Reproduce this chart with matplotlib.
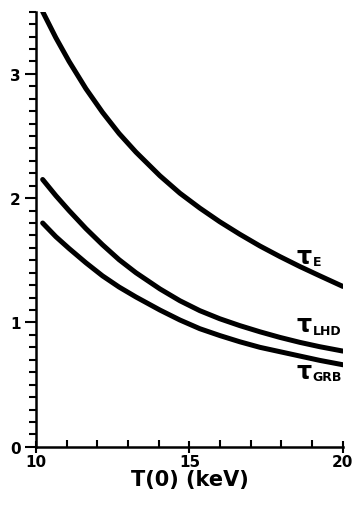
import matplotlib.pyplot as plt
from matplotlib.ticker import MultipleLocator

# values
t_vals = [10.22, 10.65, 11.08, 11.63, 12.17, 12.71, 13.26, 14.04, 14.69, 15.34, 15.99,
          16.64, 17.30, 17.95, 18.60, 19.25, 20.0]
tau_e = [3.50, 3.29, 3.10, 2.88, 2.69, 2.52, 2.37, 2.18, 2.04, 1.92, 1.81,
         1.71, 1.615, 1.53, 1.45, 1.375, 1.29]
tau_lhd = [2.15, 2.02, 1.90, 1.755, 1.625, 1.505, 1.40, 1.27, 1.175, 1.095, 1.03,
           0.975, 0.925, 0.88, 0.84, 0.805, 0.77]
tau_grb = [1.80, 1.69, 1.595, 1.48, 1.375, 1.285, 1.205, 1.10, 1.02, 0.95, 0.895,
           0.845, 0.80, 0.765, 0.73, 0.695, 0.66]

labels = ['E', 'LHD', 'GRB']
label_y = [1.536, 0.984, 0.609]

plt.rcParams['font.family'] = ['DejaVu Sans']
fig = plt.figure(figsize=(3.52, 5.06), dpi=100)
ax = fig.add_axes([0.102, 0.115, 0.872, 0.86])

for y in [tau_e, tau_lhd, tau_grb]:
    ax.plot(t_vals, y, color='black', lw=3.6, solid_capstyle='round', solid_joinstyle='round')

for lab, ly in zip(labels, label_y):
    ax.text(18.5, ly, '\u03c4', fontsize=17, fontweight='bold', va='center', ha='left')
    ax.text(19.02, ly - 0.045, lab, fontsize=9, fontweight='bold', va='center', ha='left')

ax.set_xlim(10, 20)
ax.set_ylim(0, 3.5)
ax.set_xticks([10, 15, 20])
ax.set_yticks([0, 1, 2, 3])
ax.xaxis.set_minor_locator(MultipleLocator(1))
ax.yaxis.set_minor_locator(MultipleLocator(0.1))
ax.tick_params(axis='x', which='major', direction='inout', length=8, width=1.5, labelsize=11, pad=1)
ax.tick_params(axis='x', which='minor', direction='in', length=5, width=1.5)
ax.tick_params(axis='y', which='major', direction='out', length=8, width=1.5, labelsize=11, pad=3)
ax.tick_params(axis='y', which='minor', direction='out', length=5, width=1.5)
for lab in ax.get_xticklabels() + ax.get_yticklabels():
    lab.set_fontweight('bold')

ax.spines['top'].set_visible(False)
ax.spines['right'].set_visible(False)
ax.spines['left'].set_linewidth(1.8)
ax.spines['bottom'].set_linewidth(1.8)
ax.set_xlabel('T(0) (keV)', fontsize=15, fontweight='bold', labelpad=0)

fig.savefig('out.png', dpi=100)
